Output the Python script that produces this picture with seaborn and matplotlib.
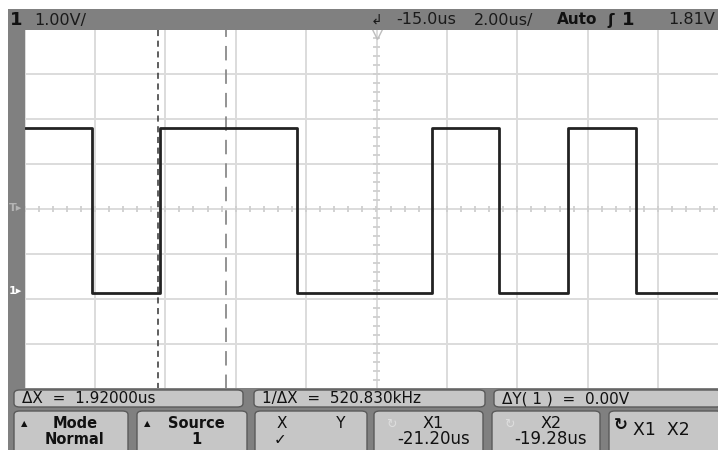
import matplotlib
matplotlib.use("Agg")
import matplotlib.pyplot as plt
from matplotlib.patches import Rectangle, FancyBboxPatch
import seaborn as sns
import numpy as np
import pandas as pd

# scope settings
time_center = -15.0      # us
time_per_div = 2.0       # us/div
volt_per_div = 1.0       # V/div
trig_level = 1.81        # V
cursor_x1 = -21.20       # us
cursor_x2 = -19.28       # us

# trace: transition times (us) and the level held after each one (V)
edge_t = [-25.0, -23.07, -21.16, -17.27, -13.41, -11.51, -9.55, -7.64, -5.0]
edge_v = [3.60, -0.05, 3.60, -0.05, 3.60, -0.05, 3.60, -0.05, -0.05]

top_labels = ["1", "1.00V/", "-15.0us", "2.00us/", "Auto", "1", "1.81V"]
meas_labels = ["\u0394X  =  1.92000us", "1/\u0394X  =  520.830kHz", "\u0394Y( 1 )  =  0.00V"]
key_top = ["Mode", "Source", "X          Y", "X1", "X2", "X1  X2"]
key_bot = ["Normal", "1", "\u2713", "-21.20us", "-19.28us", ""]

W, H = 718, 450
GRAY = "#808080"
BOX = "#c6c6c6"

sns.set_style("white")
plt.rcParams["font.family"] = ["DejaVu Sans"]

fig = plt.figure(figsize=(W / 100, H / 100), dpi=100)
fig.patch.set_facecolor("white")

def px(x, y):
    return x / W, 1 - y / H

def frect(x0, y0, x1, y1, color):
    r = Rectangle(px(x0, y1), (x1 - x0) / W, (y1 - y0) / H, transform=fig.transFigure,
                  facecolor=color, edgecolor="none", zorder=1)
    fig.patches.append(r)

def fbox(x0, y0, x1, y1):
    b = FancyBboxPatch(px(x0, y1), (x1 - x0) / W, (y1 - y0) / H,
                       boxstyle="round,pad=0,rounding_size=0.008",
                       transform=fig.transFigure, facecolor=BOX,
                       edgecolor="#5a5a5a", linewidth=1.0, zorder=2)
    fig.patches.append(b)

def ftext(x, y, s, **kw):
    fx, fy = px(x, y)
    kw.setdefault("va", "center")
    kw.setdefault("color", "#111111")
    fig.text(fx, fy, s, zorder=5, **kw)

# scope frame
frect(8, 9, 718, 30, GRAY)
frect(8, 9, 24.5, 450, GRAY)
frect(8, 388, 718, 450, GRAY)

# graticule axes
ax = fig.add_axes([24.5 / W, 1 - 389 / H, (718 - 24.5) / W, (389 - 29) / H])
x_lo = time_center - 5 * time_per_div
x_hi = x_lo + (718 - 24.5) / 35.2 * time_per_div / 2
y_lo = trig_level - 4 * volt_per_div
y_hi = trig_level + 4 * volt_per_div
ax.set_xlim(x_lo, x_hi)
ax.set_ylim(y_lo, y_hi)
ax.set_xticks(np.arange(x_lo, x_hi, time_per_div))
ax.set_yticks(np.arange(y_lo, y_hi + 0.01, volt_per_div))
ax.grid(True, color="#dcdcdc", linewidth=1.4)
ax.tick_params(length=0, labelbottom=False, labelleft=False)
for s in ax.spines.values():
    s.set_visible(False)

# minor ticks on the centre lines
mx = np.arange(x_lo, x_hi, time_per_div / 5)
ax.vlines(mx, trig_level - 0.07, trig_level + 0.07, color="#cfcfcf", linewidth=1.3)
my = np.arange(y_lo, y_hi, volt_per_div / 5)
ax.hlines(my, time_center - 0.09, time_center + 0.09, color="#cfcfcf", linewidth=1.3)

# trigger position marker
ax.plot([time_center], [y_hi - 0.08], marker="v", markersize=8, markerfacecolor="none",
        markeredgecolor="#bdbdbd", clip_on=False)

# cursors
ax.axvline(cursor_x1, color="#333333", linewidth=1.1, dashes=(4, 3))
ax.axvline(cursor_x2, color="#8a8a8a", linewidth=1.3, dashes=(8, 5))

# waveform
df = pd.DataFrame({"t": edge_t, "v": edge_v})
sns.lineplot(data=df, x="t", y="v", ax=ax, estimator=None, sort=False,
             drawstyle="steps-post", color="#222222", linewidth=2.0)
ax.set_xlabel("")
ax.set_ylabel("")

# top status bar
ftext(10, 20, top_labels[0], fontsize=13, fontweight="bold")
ftext(34, 20, top_labels[1], fontsize=11.5, color="#1a1a1a")
ftext(371, 21, "\u21b2", fontsize=10, color="#1a1a1a")
ftext(396, 20, top_labels[2], fontsize=11.5, color="#1a1a1a")
ftext(474, 20, top_labels[3], fontsize=11.5, color="#1a1a1a")
ftext(557, 20, top_labels[4], fontsize=11, fontweight="bold")
ftext(607, 20, "\u0283", fontsize=11, fontweight="bold")
ftext(622, 20, top_labels[5], fontsize=13, fontweight="bold")
ftext(668, 20, top_labels[6], fontsize=11.5, color="#1a1a1a")

# left side markers
ftext(9, 208, "T\u25b8", fontsize=8, color="#b5b5b5", fontweight="bold")
ftext(9, 291, "1\u25b8", fontsize=8, color="white", fontweight="bold")

# measurement row
meas_box = [(14, 243), (254, 485), (494, 722)]
for (x0, x1), lab in zip(meas_box, meas_labels):
    fbox(x0, 390, x1, 407)
    ftext(x0 + 8, 398.5, lab, fontsize=11)

# softkeys
keys = [(14, 128), (137, 247), (255, 367), (374, 483), (492, 600), (609, 722)]
for i, (x0, x1) in enumerate(keys):
    fbox(x0, 411, x1, 455)
    cx = (x0 + x1) / 2
    if i in (0, 1):
        ftext(x0 + 7, 424, "\u25b2", fontsize=6)
        ftext(cx + 4, 424, key_top[i], fontsize=10.5, fontweight="bold", ha="center")
        ftext(cx + 4, 439, key_bot[i], fontsize=10.5, fontweight="bold", ha="center")
    elif i == 2:
        ftext(cx, 424, key_top[i], fontsize=11, ha="center")
        ftext(x0 + 25, 440, key_bot[i], fontsize=11, ha="center")
    elif i in (3, 4):
        ftext(x0 + 12, 424, "\u21bb", fontsize=9, color="#dedede")
        ftext(cx + 5, 424, key_top[i], fontsize=11.5, ha="center")
        ftext(cx + 5, 439, key_bot[i], fontsize=12, ha="center")
    else:
        ftext(x0 + 5, 425, "\u21bb", fontsize=12, fontweight="bold")
        ftext(x0 + 24, 430, key_top[i], fontsize=12.5)

fig.savefig("out.png", dpi=100)
